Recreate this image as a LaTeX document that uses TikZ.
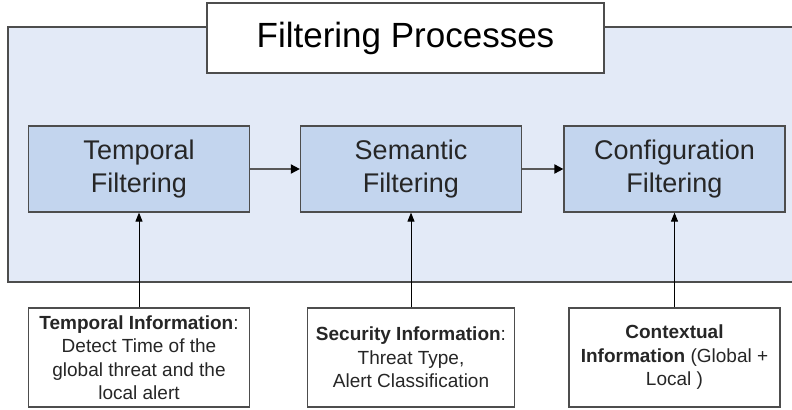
\documentclass[tikz,border=0pt]{standalone}
\usepackage{fontspec}
\setmainfont{Liberation Sans}
\usetikzlibrary{arrows.meta}

\definecolor{panelblue}{HTML}{E3EAF7}
\definecolor{boxblue}{HTML}{C3D5EE}
\definecolor{edgegray}{HTML}{4D4D4D}
\definecolor{textgray}{HTML}{262626}

\tikzset{
  filterbox/.style={draw=edgegray,line width=1.2bp,fill=boxblue,minimum width=221bp,minimum height=86bp,
    inner sep=0pt,align=center,text=textgray,font=\fontsize{27bp}{33bp}\selectfont},
  infobox/.style={draw=edgegray,line width=1.2bp,fill=white,minimum height=99bp,
    inner sep=0pt,align=center,text=textgray,font=\fontsize{19bp}{23.5bp}\selectfont},
  flowarrow/.style={draw=gray!70!black,line width=1.8bp,-{Triangle[length=9bp,width=9bp,color=black]}},
  feedarrow/.style={draw=black,line width=0.9bp,-{Triangle[length=9bp,width=7bp]}}
}

\begin{document}
\begin{tikzpicture}[x=1bp,y=-1bp]
\useasboundingbox (0,0) rectangle (792,409);
% background panel
\draw[draw=edgegray,line width=1.5bp,fill=panelblue] (8,27) rectangle (800,282);
\node[draw=edgegray,line width=1.2bp,fill=white,minimum width=397bp,minimum height=70bp,inner sep=0pt,
  font=\fontsize{35bp}{42bp}\selectfont] (title) at (405.5,38) {Filtering Processes};
% filtering stages
\node[filterbox] (temporal) at (139,169) {Temporal\\Filtering};
\node[filterbox] (semantic) at (411,169) {Semantic\\Filtering};
\node[filterbox] (config) at (674.5,169) {Configuration\\Filtering};
% information sources
\node[infobox,minimum width=221bp] (tinfo) at (139,357.5)
  {\textbf{Temporal Information}:\\Detect Time of the\\global threat and the\\local alert};
\node[infobox,minimum width=207bp] (sinfo) at (411,357.5)
  {\textbf{Security Information}:\\Threat Type,\\Alert Classification};
\node[infobox,minimum width=211bp] (cinfo) at (674.5,357.5)
  {\textbf{Contextual}\\\textbf{Information} (Global +\\Local )};
% arrows
\draw[flowarrow] (temporal) -- (semantic);
\draw[flowarrow] (semantic) -- (config);
\draw[feedarrow] (tinfo.north) -- (temporal.south);
\draw[feedarrow] (sinfo.north) -- (semantic.south);
\draw[feedarrow] (cinfo.north) -- (config.south);
\end{tikzpicture}
\end{document}
